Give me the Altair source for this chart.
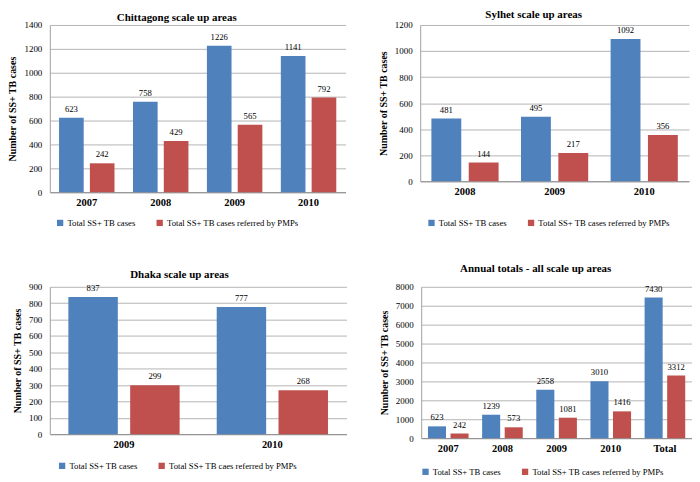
import altair as alt
import pandas as pd

SERIES_1 = "Total SS+ TB cases"
SERIES_2 = "Total SS+ TB cases referred by PMPs"
SERIES_2_DHAKA = "Total SS+ TB caes referred by PMPs"

cat_years = ["2007", "2008", "2009", "2010"]
cat_total = [623, 758, 1226, 1141]
cat_pmp = [242, 429, 565, 792]

syl_years = ["2008", "2009", "2010"]
syl_total = [481, 495, 1092]
syl_pmp = [144, 217, 356]

dha_years = ["2009", "2010"]
dha_total = [837, 777]
dha_pmp = [299, 268]

ann_years = ["2007", "2008", "2009", "2010", "Total"]
ann_total = [623, 1239, 2558, 3010, 7430]
ann_pmp = [242, 573, 1081, 1416, 3312]

BLUE = "#4F81BD"
RED = "#C0504D"
FONT = "Liberation Serif"


def panel(title, years, total, pmp, label2, ymax, step, width, height,
          legend_x, legend_y, title_offset):
    rows = []
    for y, v in zip(years, total):
        rows.append({"year": y, "series": SERIES_1, "value": v})
    for y, v in zip(years, pmp):
        rows.append({"year": y, "series": label2, "value": v})
    df = pd.DataFrame(rows)

    x = alt.X("year:N", sort=years, title=None,
              scale=alt.Scale(paddingInner=0.25, paddingOuter=0.125),
              axis=alt.Axis(labelAngle=0, labelFontWeight="bold", labelFontSize=10.5,
                            labelPadding=5, ticks=False, domainColor="#8c8c8c",
                            labelColor="#000000"))
    xo = alt.XOffset("series:N", sort=[SERIES_1, label2],
                     scale=alt.Scale(domain=[SERIES_1, label2],
                                     paddingInner=0.2, paddingOuter=0))
    y = alt.Y("value:Q", title="Number  of SS+ TB cases",
              scale=alt.Scale(domain=[0, ymax], nice=False),
              axis=alt.Axis(values=list(range(0, ymax + 1, step)), ticks=False,
                            format="d",
                            labelPadding=8, labelFontSize=9, labelColor="#000000",
                            gridColor="#b4b4b4", domainColor="#a0a0a0",
                            titleFontSize=10, titleFontWeight="bold",
                            titlePadding=6, titleColor="#000000"))
    color = alt.Color("series:N", sort=[SERIES_1, label2],
                      scale=alt.Scale(domain=[SERIES_1, label2], range=[BLUE, RED]),
                      legend=alt.Legend(title=None, orient="none", direction="horizontal",
                                        legendX=legend_x, legendY=legend_y,
                                        symbolType="square", symbolSize=40,
                                        symbolStrokeWidth=0, labelFontSize=8.7,
                                        labelColor="#000000", columnPadding=20,
                                        labelOffset=3))
    bars = alt.Chart(df).mark_bar().encode(x=x, xOffset=xo, y=y, color=color)
    text = alt.Chart(df).mark_text(baseline="bottom", dy=-4, fontSize=8.7,
                                   color="#000000").encode(
        x=x, xOffset=xo, y=y, text="value:Q")
    return alt.layer(bars, text).properties(
        width=width, height=height,
        title=alt.TitleParams(title, fontSize=11, fontWeight="bold", font=FONT,
                              offset=title_offset, frame="bounds", anchor="middle",
                              color="#000000"))


a = panel("Chittagong  scale up areas", cat_years, cat_total, cat_pmp, SERIES_2,
          1400, 200, 297, 168, 6, 194, -2)
b = panel("Sylhet scale up areas", syl_years, syl_total, syl_pmp, SERIES_2,
          1200, 200, 270, 157, 7, 194, 1)
c = panel("Dhaka scale up areas", dha_years, dha_total, dha_pmp, SERIES_2_DHAKA,
          900, 100, 298, 148, 8, 175, 3)
d = panel("Annual  totals - all scale up areas", ann_years, ann_total, ann_pmp, SERIES_2,
          8000, 1000, 272, 152, 0, 181, 9)

row1 = alt.HConcatChart(hconcat=[a, b], spacing=75, bounds="flush").resolve_scale(
    color="independent", xOffset="independent").resolve_legend(color="independent")
row2 = alt.HConcatChart(hconcat=[c, d], spacing=75, bounds="flush").resolve_scale(
    color="independent", xOffset="independent").resolve_legend(color="independent")

chart = alt.VConcatChart(vconcat=[row1, row2], spacing=263, bounds="flush").resolve_scale(
    color="independent", xOffset="independent").resolve_legend(color="independent").configure(
    font=FONT, padding=0, background="white").configure_view(stroke=None)

chart.save("out.html", embed_options={"renderer": "svg", "actions": False})
